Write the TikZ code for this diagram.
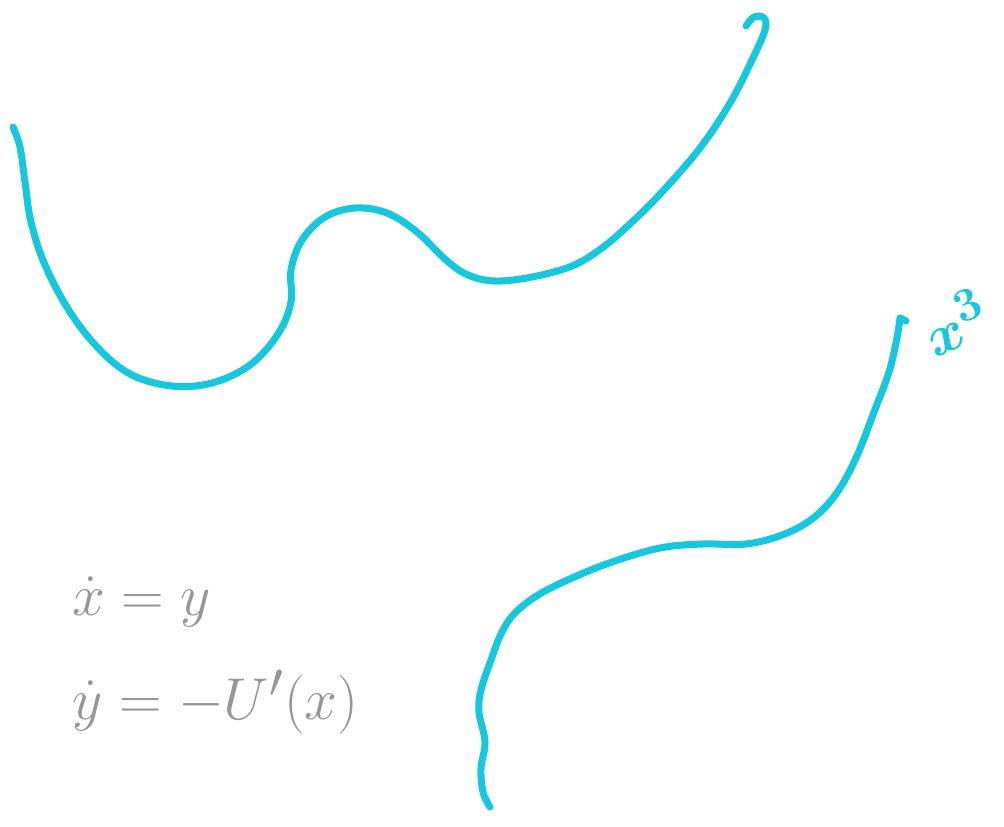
\documentclass[tikz,border=0pt]{standalone}
\usepackage{amsmath,amssymb}
\usepackage{tikz}
\definecolor{orbitcol}{RGB}{22,199,222}
\definecolor{inkgray}{RGB}{150,150,150}
\tikzset{
  orbit/.style={line width=4pt, orbitcol, line cap=round, line join=round},
  eqlabel/.style={inkgray, font=\Huge, scale=1.35, transform shape, anchor=west, inner sep=0pt},
  tiplabel/.style={orbitcol, font=\Huge, scale=1.3, transform shape, inner sep=0pt},
}
\begin{document}
\begin{tikzpicture}[x=0.02cm, y=0.02cm]
  \useasboundingbox (0,0) rectangle (1004,-826);
  % ====== upper curve (well) ======
  \draw[orbit] plot[smooth, tension=0.6] coordinates {
    (13,-127) (20,-147) (25,-182) (31,-222) (45,-265) (70,-312) (100,-350) (132,-375)
    (172,-386) (212,-383) (250,-365) (278,-334) (291,-302) (291,-270)
    (302,-240) (325,-217) (355,-208) (387,-213) (417,-232) (446,-260)
    (468,-275) (495,-281) (532,-277) (572,-266) (602,-248) (632,-222)
    (662,-192) (700,-148) (730,-103) (752,-60) (765,-30) (764,-18)
    (754,-17) (746,-26)};
  % ====== lower curve ======
  \draw[orbit] plot[smooth, tension=0.6] coordinates {
    (490,-807) (483,-792) (481,-768) (485,-742) (479,-712) (481,-690)
    (491,-660) (501,-634) (514,-614) (538,-595) (572,-578) (612,-562)
    (660,-548) (702,-544) (746,-544) (782,-535) (812,-519) (836,-494)
    (856,-458) (874,-412) (889,-372) (897,-338) (900,-318)};
  \draw[orbit] (900,-318) -- (906,-321);
  \node[tiplabel, rotate=24] (cube) at (955,-322) {$\boldsymbol{x^3}$};
  % ====== equations ======
  \node[eqlabel] (eqx) at (72,-602) {$\dot x = y$};
  \node[eqlabel] (eqy) at (72,-702) {$\dot y = -U'(x)$};
\end{tikzpicture}
\end{document}
